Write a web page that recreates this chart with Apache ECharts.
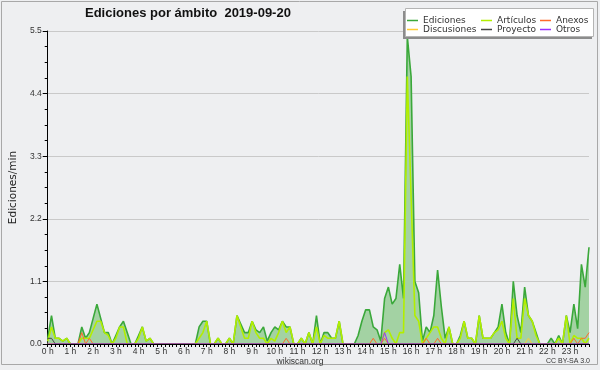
<!DOCTYPE html>
<html><head><meta charset="utf-8">
<script src="https://cdn.jsdelivr.net/npm/echarts@6/dist/echarts.min.js"></script>
<style>html,body{margin:0;padding:0;background:#eeeff1}#c{width:600px;height:370px}</style>
</head><body><div id="c"></div>
<script>
const titleText = 'Ediciones por ámbito  2019-09-20';
const yAxisName = 'Ediciones/min';
const hourLabels = ['0 h','1 h','2 h','3 h','4 h','5 h','6 h','7 h','8 h','9 h','10 h','11 h','12 h','13 h','14 h','15 h','16 h','17 h','18 h','19 h','20 h','21 h','22 h','23 h'];
const yTicks = [0, 1.1, 2.2, 3.3, 4.4, 5.5];
const seriesNames = ['Ediciones','Artículos','Anexos','Discusiones','Proyecto','Otros'];

// one value per 10-minute slot (144 slots)
const ediciones = [
 0.1,0.5,0.1,0.1,0.05,0.1,0,0,0,0.3,0.1,0.2,
 0.45,0.7,0.45,0.2,0.2,0,0.15,0.3,0.4,0.2,0,0,
 0.15,0.3,0.05,0.1,0,0,0,0,0,0,0,0,
 0,0,0,0,0.3,0.4,0.4,0,0,0.1,0,0,
 0.1,0,0.5,0.35,0.2,0.2,0.4,0.25,0.2,0.3,0.05,0.2,
 0.3,0.25,0.4,0.3,0.3,0,0,0.1,0,0.2,0,0.5,
 0,0.2,0.2,0.1,0.1,0.4,0,0,0,0,0.15,0.4,
 0.6,0.6,0.3,0.25,0.05,0.8,1.0,0.7,0.8,1.4,0.8,5.4,
 4.7,1.1,0.9,0.05,0.3,0.2,0.5,1.3,0.65,0.1,0.3,0,
 0,0.15,0.4,0.1,0.1,0,0.5,0.1,0.1,0.1,0.2,0.3,
 0.7,0.2,0,1.1,0.5,0.2,1.0,0.5,0.4,0.2,0,0,
 0,0.1,0,0.15,0,0.5,0.2,0.7,0.27,1.4,1.0,1.7
];
const articulos = [
 0.05,0.3,0.1,0.1,0.05,0.1,0,0,0,0.1,0.1,0.1,
 0.25,0.4,0.4,0.2,0.15,0,0.1,0.3,0.3,0,0,0,
 0.1,0.3,0.05,0.1,0,0,0,0,0,0,0,0,
 0,0,0,0,0.1,0.2,0.4,0,0,0.1,0,0,
 0.1,0,0.5,0.3,0.1,0.1,0.4,0.2,0.1,0.1,0,0.1,
 0.05,0.2,0.4,0.2,0.3,0,0,0.1,0,0.2,0,0.3,
 0,0.15,0.1,0.1,0.1,0.4,0,0,0,0,0,0,
 0,0,0,0,0,0.2,0.25,0.1,0,0.2,0.2,4.7,
 2.6,0.5,0.4,0,0.1,0.2,0.3,0.3,0.1,0,0.3,0,
 0,0.1,0.4,0.1,0.1,0,0.5,0.1,0.1,0.1,0.2,0.25,
 0.4,0.1,0,0.8,0.1,0.1,0.8,0.5,0.4,0.15,0,0,
 0,0,0,0.1,0,0.5,0,0.15,0.1,0.1,0,0.1
];
const anexos = [
 0,0,0,0,0,0,0,0,0,0.2,0,0.1,
 0,0,0,0,0,0,0,0,0,0,0,0,
 0,0,0,0,0,0,0,0,0,0,0,0,
 0,0,0,0,0,0,0,0,0,0,0,0,
 0,0,0,0,0,0,0,0,0,0,0,0,
 0,0,0,0.1,0,0,0,0,0,0,0,0,
 0,0,0,0,0,0,0,0,0,0,0,0,
 0,0,0.1,0,0,0.1,0,0,0,0,0,0,
 0,0,0,0,0.1,0,0,0.1,0,0,0,0,
 0,0,0,0,0,0,0,0,0,0,0,0,
 0,0,0,0,0,0,0,0,0,0,0,0,
 0,0,0,0,0,0,0,0.1,0,0.1,0.1,0.2
];
const discusiones = [
 0,0,0,0,0,0,0,0,0,0,0,0,
 0,0,0,0,0,0,0,0,0,0,0,0,
 0,0,0,0,0,0,0,0,0,0,0,0,
 0,0,0,0,0,0,0,0,0,0,0,0,
 0,0,0,0,0,0,0,0,0,0,0,0,
 0,0,0,0,0,0,0,0,0,0,0,0,
 0,0,0,0,0,0,0,0,0,0,0,0,
 0,0,0,0,0,0,0,0,0,0,0,0,
 0,0,0,0,0,0,0,0,0,0,0,0,
 0,0,0,0,0,0,0,0,0,0,0,0,
 0,0,0,0,0,0,0,0.1,0,0,0,0,
 0,0,0,0,0,0,0,0,0,0,0,0
];
const proyecto = [
 0.1,0.1,0,0,0,0,0,0,0,0,0,0,
 0,0,0,0,0,0,0,0,0,0,0,0,
 0,0,0,0,0,0,0,0,0,0,0,0,
 0,0,0,0,0,0,0,0,0,0,0,0,
 0,0,0,0,0,0,0,0,0,0,0,0,
 0,0,0,0,0,0,0,0,0,0,0,0,
 0,0,0,0,0,0,0,0,0,0,0,0,
 0,0,0,0,0,0,0,0,0,0,0,0,
 0,0,0,0,0,0,0,0,0,0,0,0,
 0,0,0,0,0,0,0,0,0,0,0,0,
 0,0,0,0,0.1,0,0,0,0,0,0,0,
 0,0,0,0,0,0,0,0,0,0,0,0
];
const otros = [
 0,0,0,0,0,0,0,0,0,0,0,0,
 0,0,0,0,0,0,0,0,0,0,0,0,
 0,0,0,0,0,0,0,0,0,0,0,0,
 0,0,0,0,0,0,0,0,0,0,0,0,
 0,0,0,0,0,0,0,0,0,0,0,0,
 0,0,0,0,0,0,0,0,0,0,0,0,
 0,0,0,0,0,0,0,0,0,0,0,0,
 0,0,0,0,0,0.2,0,0,0,0,0,0,
 0,0,0,0,0,0,0,0,0,0,0,0,
 0,0,0,0,0,0,0,0,0,0,0,0,
 0,0,0,0,0,0,0,0,0,0,0,0,
 0,0,0,0,0,0,0,0,0,0,0,0
];

const slots = ediciones.map((_, k) => k);
const colors = ['#3aa83a','#b2ee00','#ff6a2a','#ffcc33','#444444','#9b30ff'];
const dataSets = [ediciones, articulos, anexos, discusiones, proyecto, otros];

const chart = echarts.init(document.getElementById('c'), null, {renderer: 'canvas'});
const series = seriesNames.map((name, s) => {
  const o = {
    name, type: 'line', data: dataSets[s], symbol: 'none', smooth: false,
    lineStyle: {color: colors[s], width: s < 2 ? 1.6 : 1},
    itemStyle: {color: colors[s]},
    z: 2 + (s === 0 ? 0 : 1),
    animation: false
  };
  if (s === 0) o.areaStyle = {color: '#a3d2a3', opacity: 1};
  return o;
});

const legendBase = {
  orient: 'vertical', icon: 'rect', itemWidth: 11, itemHeight: 1.5, itemGap: 0, padding: 0, top: 16,
  textStyle: {fontSize: 9, lineHeight: 9, fontFamily: 'DejaVu Sans', color: '#333'},
  selectedMode: false, z: 10
};

chart.setOption({
  backgroundColor: '#eeeff1',
  animation: false,
  title: {text: titleText, left: 85, top: 7, padding: 0,
    textStyle: {fontSize: 13, fontWeight: 'bold', fontFamily: 'Liberation Sans', color: '#111'}},
  legend: [
    Object.assign({}, legendBase, {left: 407, data: ['Ediciones','Discusiones']}),
    Object.assign({}, legendBase, {left: 481, data: ['Artículos','Proyecto']}),
    Object.assign({}, legendBase, {left: 540, data: ['Anexos','Otros']})
  ],
  grid: {left: 45, right: 11, top: 31, bottom: 26, containLabel: false},
  xAxis: {
    type: 'category', data: slots, boundaryGap: false, z: 5,
    axisLine: {lineStyle: {color: '#000', width: 1}},
    axisTick: {show: true, interval: 0, length: 3, lineStyle: {color: '#000'}},
    axisLabel: {interval: 0, margin: 3, fontSize: 8.5, fontFamily: 'Liberation Sans', color: '#333',
      formatter: (v, idx) => idx % 6 === 0 ? hourLabels[idx / 6] : ''},
    splitLine: {show: false}
  },
  yAxis: {
    type: 'value', min: yTicks[0], max: yTicks[yTicks.length - 1], interval: yTicks[1] - yTicks[0],
    name: yAxisName, nameLocation: 'middle', nameGap: 27,
    nameTextStyle: {fontSize: 10.5, fontFamily: 'DejaVu Sans', color: '#222'},
    axisLine: {show: true, lineStyle: {color: '#000'}},
    axisTick: {show: true, length: 5, lineStyle: {color: '#000'}},
    minorTick: {show: true, splitNumber: 4, length: 3, lineStyle: {color: '#000'}},
    axisLabel: {margin: 6, fontSize: 8.5, fontFamily: 'Liberation Sans', color: '#333',
      formatter: v => v.toFixed(1)},
    splitLine: {show: true, lineStyle: {color: '#c9c9c9', width: 1}}
  },
  graphic: [
    {type: 'rect', shape: {x: 1.5, y: 1.5, width: 596, height: 363}, style: {fill: 'none', stroke: '#a8a8a8', lineWidth: 1}, z: 1, silent: true},
    {type: 'rect', shape: {x: 403, y: 11, width: 189, height: 28}, style: {fill: '#8c8c8c'}, z: 8, silent: true},
    {type: 'rect', shape: {x: 405.5, y: 8.5, width: 188, height: 28}, style: {fill: '#ffffff', stroke: '#b4b4b4', lineWidth: 1}, z: 9, silent: true},
    {type: 'text', left: 'center', top: 357, style: {text: 'wikiscan.org', fontSize: 8.5, fontFamily: 'Liberation Sans', fill: '#333'}, z: 10},
    {type: 'text', right: 10, top: 358, style: {text: 'CC BY-SA 3.0', fontSize: 7, fontFamily: 'Liberation Sans', fill: '#333'}, z: 10}
  ],
  series
});
</script>
</body></html>
